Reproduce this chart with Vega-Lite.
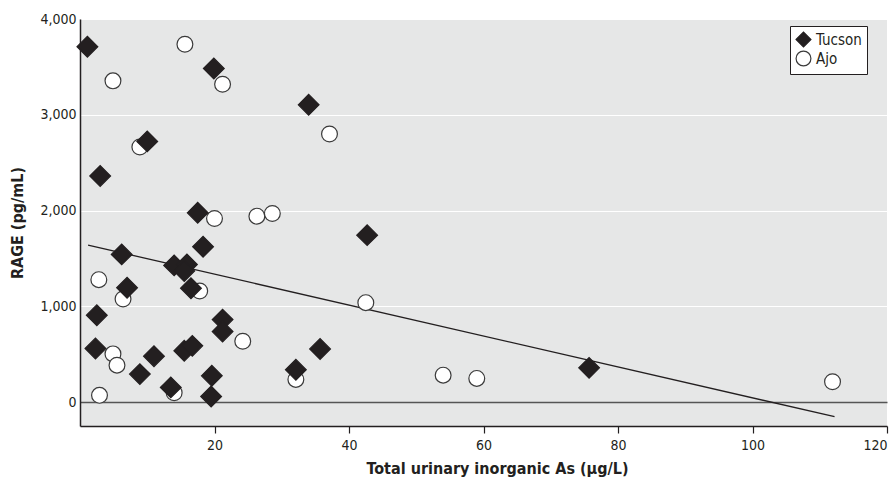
{
  "$schema": "https://vega.github.io/schema/vega-lite/v6.json",
  "width": 807,
  "height": 407,
  "autosize": "none",
  "padding": {"left": 80, "top": 19, "right": 8, "bottom": 53},
  "background": "white",
  "datasets": {
    "points": [
      {"site": "Ajo", "as": 15.6, "rage": 3736},
      {"site": "Ajo", "as": 21.2, "rage": 3319},
      {"site": "Ajo", "as": 4.9, "rage": 3354},
      {"site": "Ajo", "as": 8.9, "rage": 2663},
      {"site": "Ajo", "as": 20.0, "rage": 1917},
      {"site": "Ajo", "as": 26.3, "rage": 1941},
      {"site": "Ajo", "as": 28.6, "rage": 1969},
      {"site": "Ajo", "as": 37.1, "rage": 2799},
      {"site": "Ajo", "as": 17.8, "rage": 1160},
      {"site": "Ajo", "as": 2.8, "rage": 1278},
      {"site": "Ajo", "as": 6.4, "rage": 1076},
      {"site": "Ajo", "as": 24.2, "rage": 635},
      {"site": "Ajo", "as": 4.9, "rage": 503},
      {"site": "Ajo", "as": 5.5, "rage": 385},
      {"site": "Ajo", "as": 14.0, "rage": 97},
      {"site": "Ajo", "as": 2.9, "rage": 70},
      {"site": "Ajo", "as": 42.5, "rage": 1038},
      {"site": "Ajo", "as": 32.1, "rage": 236},
      {"site": "Ajo", "as": 54.0, "rage": 281},
      {"site": "Ajo", "as": 59.0, "rage": 247},
      {"site": "Ajo", "as": 111.9, "rage": 212},
      {"site": "Tucson", "as": 1.1, "rage": 3711},
      {"site": "Tucson", "as": 19.9, "rage": 3483},
      {"site": "Tucson", "as": 10.0, "rage": 2722},
      {"site": "Tucson", "as": 3.0, "rage": 2361},
      {"site": "Tucson", "as": 17.5, "rage": 1976},
      {"site": "Tucson", "as": 34.0, "rage": 3104},
      {"site": "Tucson", "as": 6.2, "rage": 1542},
      {"site": "Tucson", "as": 18.3, "rage": 1622},
      {"site": "Tucson", "as": 14.0, "rage": 1427},
      {"site": "Tucson", "as": 15.9, "rage": 1437},
      {"site": "Tucson", "as": 15.5, "rage": 1368},
      {"site": "Tucson", "as": 16.5, "rage": 1188},
      {"site": "Tucson", "as": 7.0, "rage": 1194},
      {"site": "Tucson", "as": 2.5, "rage": 906},
      {"site": "Tucson", "as": 21.2, "rage": 861},
      {"site": "Tucson", "as": 21.2, "rage": 736},
      {"site": "Tucson", "as": 2.3, "rage": 559},
      {"site": "Tucson", "as": 11.0, "rage": 479},
      {"site": "Tucson", "as": 8.9, "rage": 292},
      {"site": "Tucson", "as": 15.5, "rage": 535},
      {"site": "Tucson", "as": 16.7, "rage": 587},
      {"site": "Tucson", "as": 13.5, "rage": 153},
      {"site": "Tucson", "as": 19.6, "rage": 274},
      {"site": "Tucson", "as": 19.5, "rage": 59},
      {"site": "Tucson", "as": 42.7, "rage": 1743},
      {"site": "Tucson", "as": 35.7, "rage": 555},
      {"site": "Tucson", "as": 32.1, "rage": 337},
      {"site": "Tucson", "as": 75.7, "rage": 357}
    ],
    "fit": [
      {"as": 1.2, "rage": 1639},
      {"as": 112.2, "rage": -153}
    ]
  },
  "layer": [
    {
      "data": {"name": "fit"},
      "mark": {"type": "line", "color": "#231f20", "strokeWidth": 1.3},
      "encoding": {
        "x": {"field": "as", "type": "quantitative"},
        "y": {"field": "rage", "type": "quantitative"}
      }
    },
    {
      "data": {"name": "points"},
      "mark": {"type": "point", "filled": true, "opacity": 1, "strokeWidth": 1.2},
      "encoding": {
        "x": {
          "field": "as",
          "type": "quantitative",
          "title": "Total urinary inorganic As (μg/L)",
          "scale": {"domain": [0, 120], "nice": false, "zero": false},
          "axis": {
            "values": [20, 40, 60, 80, 100, 120],
            "grid": false,
            "tickSize": 7,
            "labelPadding": 5,
            "titlePadding": 8,
            "titleX": 417
          }
        },
        "y": {
          "field": "rage",
          "type": "quantitative",
          "title": "RAGE (pg/mL)",
          "scale": {"domain": [-250, 4000], "nice": false, "zero": false},
          "axis": {
            "values": [0, 1000, 2000, 3000, 4000],
            "format": ",.0f",
            "ticks": false,
            "labelPadding": 4,
            "titlePadding": 14,
            "grid": true,
            "gridColor": {"condition": {"test": "datum.value === 0", "value": "#555555"}, "value": "white"},
            "gridWidth": {"condition": {"test": "datum.value === 0", "value": 1.6}, "value": 1.2}
          }
        },
        "shape": {
          "field": "site",
          "type": "nominal",
          "scale": {"domain": ["Tucson", "Ajo"], "range": ["diamond", "circle"]},
          "legend": {"title": null}
        },
        "fill": {
          "field": "site",
          "type": "nominal",
          "scale": {"domain": ["Tucson", "Ajo"], "range": ["#231f20", "white"]},
          "legend": {"title": null}
        },
        "stroke": {
          "field": "site",
          "type": "nominal",
          "scale": {"domain": ["Tucson", "Ajo"], "range": ["#231f20", "#3a3a3a"]},
          "legend": {"title": null}
        },
        "size": {
          "condition": {"test": "datum.site === 'Tucson'", "value": 430},
          "value": 250
        }
      }
    }
  ],
  "config": {
    "view": {"fill": "#e6e7e7", "stroke": null},
    "font": "DejaVu Sans Condensed, sans-serif",
    "axis": {
      "domainColor": "#231f20",
      "domainWidth": 1.5,
      "tickColor": "#231f20",
      "tickWidth": 1.2,
      "labelFont": "DejaVu Sans Condensed, sans-serif",
      "labelFontSize": 14,
      "labelColor": "#231f20",
      "titleFont": "DejaVu Sans Condensed, sans-serif",
      "titleFontSize": 16,
      "titleFontWeight": "bold",
      "titleColor": "#231f20"
    },
    "legend": {
      "orient": "none",
      "legendX": 710,
      "legendY": 7,
      "fillColor": "white",
      "strokeColor": "#231f20",
      "padding": 5,
      "rowPadding": -3,
      "symbolSize": 220,
      "symbolStrokeWidth": 1.2,
      "labelFont": "DejaVu Sans Condensed, sans-serif",
      "labelFontSize": 15,
      "labelColor": "#231f20",
      "labelOffset": 4
    }
  }
}
